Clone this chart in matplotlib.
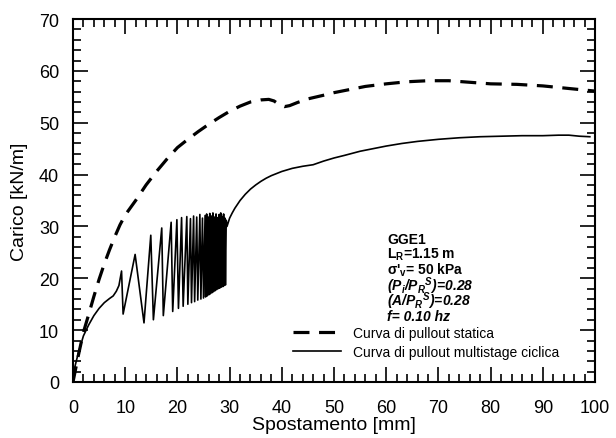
import numpy as np
import matplotlib
matplotlib.use("Agg")
import matplotlib.pyplot as plt
from matplotlib.ticker import MultipleLocator

plt.rcParams['font.family'] = ['Liberation Sans', 'DejaVu Sans']
plt.rcParams['mathtext.fontset'] = 'custom'
plt.rcParams['mathtext.rm'] = 'Liberation Sans'
plt.rcParams['mathtext.it'] = 'Liberation Sans:italic'
plt.rcParams['mathtext.bf'] = 'Liberation Sans:bold'
plt.rcParams['mathtext.default'] = 'regular'

# static pullout curve (dashed)
static_x = [0, 1, 2, 3, 4, 5, 6, 7, 8, 9, 10, 12, 14, 16, 18, 20, 22, 24, 26, 28,
            30, 32, 34, 36, 37.5, 38.5, 39.5, 40.5, 41.5, 43, 45, 48, 50, 53, 56,
            60, 64, 68, 72, 76, 80, 85, 90, 95, 100]
static_y = [0, 5, 9.6, 13, 16.5, 19.8, 22.8, 25.5, 28, 30.3, 32.2, 35, 38, 40.6,
            43, 45.2, 46.8, 48.3, 49.7, 51, 52.2, 53.2, 54, 54.4, 54.5, 54.2, 53.5,
            53.1, 53.3, 53.9, 54.6, 55.3, 55.8, 56.4, 57, 57.5, 57.9, 58.1, 58.1,
            57.8, 57.5, 57.4, 57.1, 56.6, 56.1]

# multistage cyclic pullout curve (solid): monotonic start, load cycles, post-cyclic
cyc_x = [0, 0.4, 1, 2, 3, 4, 5, 6, 7, 7.7, 8.3, 8.8, 9.3,
         9.6, 11.9, 13.6, 14.9, 15.4, 17.0, 17.3, 18.8, 19.1, 19.9, 20.2, 20.8,
         21.1, 21.8, 22.0, 22.5, 22.7, 23.1, 23.3, 23.7, 23.9, 24.3, 24.5, 24.8,
         25.0, 25.3, 25.4, 25.6, 25.7, 25.9, 26.0, 26.2, 26.3, 26.5, 26.6, 26.8,
         26.9, 27.1, 27.2, 27.4, 27.5, 27.7, 27.8, 28.0, 28.1, 28.3, 28.4, 28.6,
         28.7, 28.85, 28.95, 29.1, 29.2, 29.35,
         29.5, 30.0, 30.5, 31, 32, 33, 34, 35, 36, 37, 38, 39, 40, 42, 44, 46,
         48, 50, 52, 55, 58, 60, 63, 66, 70, 74, 78, 82, 86, 90, 93, 95, 97, 99]
cyc_y = [0, 3.1, 5.5, 8.9, 11, 12.8, 14.2, 15.3, 16.1, 16.6, 17.5, 18.6, 21.4,
         13.1, 24.6, 11.4, 28.3, 12.0, 29.7, 12.8, 30.8, 13.6, 31.3, 14.2, 31.7,
         14.6, 31.9, 15.0, 31.5, 15.3, 32.0, 15.5, 31.8, 15.8, 32.3, 16.0, 31.6,
         16.2, 32.1, 16.4, 32.4, 16.6, 31.8, 16.8, 32.5, 17.0, 32.0, 17.2, 32.6,
         17.4, 31.8, 17.6, 32.4, 17.8, 31.7, 18.0, 32.3, 18.1, 32.6, 18.3, 31.9,
         18.4, 32.4, 18.6, 31.6, 18.7, 31.2,
         30.0, 31.6, 32.6, 33.5, 35.0, 36.2, 37.2, 38.0, 38.7, 39.3, 39.8, 40.2,
         40.6, 41.2, 41.6, 41.9, 42.6, 43.2, 43.7, 44.5, 45.1, 45.5, 46.0, 46.4,
         46.8, 47.1, 47.3, 47.4, 47.5, 47.5, 47.6, 47.6, 47.4, 47.3]

fig = plt.figure(figsize=(6.16, 4.39), dpi=100)
ax = fig.add_axes([0.1185, 0.1276, 0.8475, 0.8268])

ax.plot(static_x, static_y, color='k', linewidth=2.3, linestyle=(0, (5, 3)),
        label='Curva di pullout statica')
ax.plot(cyc_x, cyc_y, color='k', linewidth=1.2,
        label='Curva di pullout multistage ciclica')

ax.set_xlim(0, 100)
ax.set_ylim(0, 70)
ax.xaxis.set_major_locator(MultipleLocator(10))
ax.xaxis.set_minor_locator(MultipleLocator(2))
ax.yaxis.set_major_locator(MultipleLocator(10))
ax.yaxis.set_minor_locator(MultipleLocator(2))
ax.tick_params(which='both', direction='in', top=True, right=True, width=1.2)
ax.tick_params(which='major', length=11, labelsize=13)
ax.tick_params(which='minor', length=6)
ax.tick_params(axis='x', which='major', pad=12)
ax.tick_params(axis='y', which='major', pad=10)
for sp in ax.spines.values():
    sp.set_linewidth(1.5)

ax.set_xlabel('Spostamento [mm]', fontsize=14, labelpad=0)
ax.set_ylabel('Carico [kN/m]', fontsize=14, labelpad=8)

info = ['GGE1',
        'L$_R$=1.15 m',
        "σ'$_v$= 50 kPa",
        '(P$_i$/P$_R$$^S$)=0.28',
        '(A/P$_R$$^S$)=0.28',
        'f= 0.10 hz']
styles = ['normal', 'normal', 'normal', 'italic', 'italic', 'italic']
for k, (s, st) in enumerate(zip(info, styles)):
    ax.text(60.2, 27.6 - k * 2.97, s, fontsize=10, fontweight='bold',
            fontstyle=st, va='center', ha='left')

ax.legend(loc='upper left', bbox_to_anchor=(0.422, 0.155), frameon=False,
          fontsize=10, handlelength=3.4, handletextpad=0.9, labelspacing=0.35,
          borderpad=0, borderaxespad=0)

fig.savefig('out.png', dpi=100)
